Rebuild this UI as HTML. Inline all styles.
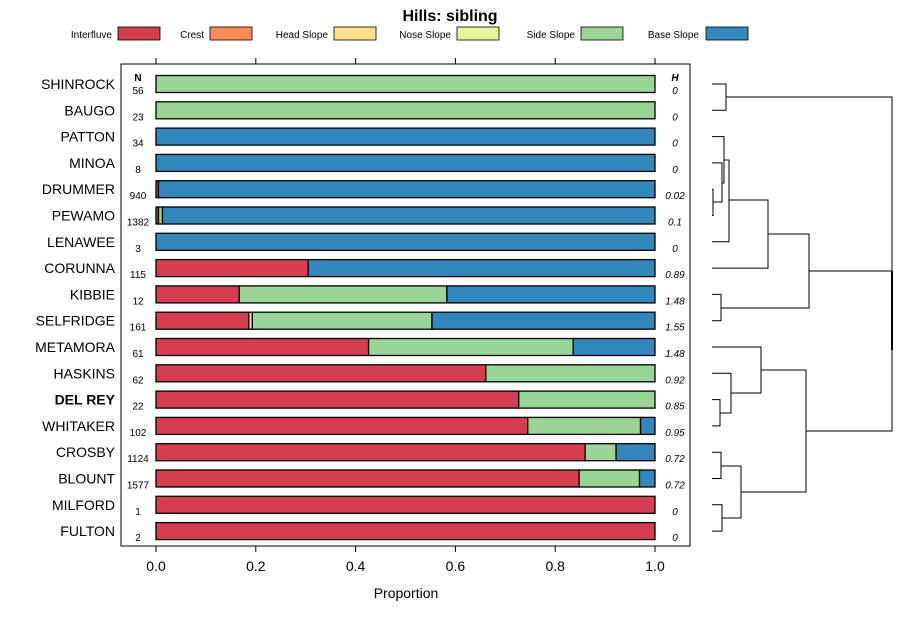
<!DOCTYPE html>
<html><head><meta charset="utf-8"><style>
body{margin:0;background:#fff}
svg{font-family:"Liberation Sans",sans-serif}
</style></head><body>
<svg id="c" width="900" height="620" xmlns="http://www.w3.org/2000/svg">
<text x="450" y="21" text-anchor="middle" font-size="16" font-weight="bold">Hills: sibling</text>
<g id="legend"></g>
<rect x="121" y="64" width="569" height="482" fill="none" stroke="#000" stroke-width="1"/>
<g id="bars"></g>
<g id="axis"></g>
<text x="406" y="598" text-anchor="middle" font-size="14">Proportion</text>
<text x="138" y="81" text-anchor="middle" font-size="10" font-weight="bold">N</text>
<text x="675" y="81" text-anchor="middle" font-size="10" font-weight="bold" font-style="italic">H</text>
<g id="dend" fill="none" stroke="#000" stroke-width="1"></g>
</svg>
<script>
const categories=["SHINROCK","BAUGO","PATTON","MINOA","DRUMMER","PEWAMO","LENAWEE","CORUNNA","KIBBIE","SELFRIDGE","METAMORA","HASKINS","DEL REY","WHITAKER","CROSBY","BLOUNT","MILFORD","FULTON"];
const seriesNames=["Interfluve","Crest","Head Slope","Nose Slope","Side Slope","Base Slope"];
const colors=["#D53E4F","#FC8D59","#FEE08B","#E6F598","#99D594","#3288BD"];
const interfluve=[0,0,0,0,0.005,0.005,0,0.305,0.167,0.186,0.426,0.661,0.727,0.745,0.86,0.848,1,1];
const crest=[0,0,0,0,0,0,0,0,0,0,0,0,0,0,0,0,0,0];
const headSlope=[0,0,0,0,0,0,0,0,0,0.007,0,0,0,0,0,0,0,0];
const noseSlope=[0,0,0,0,0,0,0,0,0,0,0,0,0,0,0,0,0,0];
const sideSlope=[1,1,0,0,0,0.008,0,0,0.416,0.36,0.41,0.339,0.273,0.226,0.062,0.121,0,0];
const baseSlope=[0,0,1,1,0.995,0.987,1,0.695,0.417,0.447,0.164,0,0,0.029,0.078,0.031,0,0];
const nVals=["56","23","34","8","940","1382","3","115","12","161","61","62","22","102","1124","1577","1","2"];
const hVals=["0","0","0","0","0.02","0.1","0","0.89","1.48","1.55","1.48","0.92","0.85","0.95","0.72","0.72","0","0"];
const xTicks=[0,0.2,0.4,0.6,0.8,1.0];
const NS="http://www.w3.org/2000/svg";
const x=v=>156+v*499;
const y=i=>84+i*26.3;
function mk(t,a,p){const e=document.createElementNS(NS,t);for(const k in a)e.setAttribute(k,a[k]);p.appendChild(e);return e;}
const series=[interfluve,crest,headSlope,noseSlope,sideSlope,baseSlope];
const bars=document.getElementById('bars');
categories.forEach((c,i)=>{
  const lab=mk('text',{x:115,y:y(i)+5,'text-anchor':'end','font-size':14,'font-weight':c==="DEL REY"?'bold':'normal'},bars);
  lab.textContent=c;
  
  
  let cum=0;
  series.forEach((s,k)=>{
    const v=s[i]; if(v<=0)return;
    const r=mk('rect',{x:x(cum),y:y(i)-8.5,width:x(cum+v)-x(cum),height:17,fill:colors[k],stroke:'#000','stroke-width':1.3},bars);
    
    
    cum+=v;
  });
  const n=mk('text',{x:138,y:y(i)+10,'text-anchor':'middle','font-size':10},bars);
  n.textContent=nVals[i];
  
  
  const h=mk('text',{x:675,y:y(i)+10,'text-anchor':'middle','font-size':10,'font-style':'italic'},bars);
  h.textContent=hVals[i];
  
  
});
const ax=document.getElementById('axis');
xTicks.forEach(t=>{
  mk('line',{x1:x(t),x2:x(t),y1:546,y2:552,stroke:'#000'},ax);
  mk('line',{x1:x(t),x2:x(t),y1:64,y2:58,stroke:'#000'},ax);
  const tl=mk('text',{x:x(t),y:571,'text-anchor':'middle','font-size':14},ax);
  tl.textContent=t.toFixed(1);
  
  
});
const lg=document.getElementById('legend');
const lx=[[112,118],[204,210],[328,334],[451,457],[575,581],[699,706]];
seriesNames.forEach((s,k)=>{
  const t=mk('text',{x:lx[k][0],y:38,'text-anchor':'end','font-size':10},lg);
  t.textContent=s;
  
  
  const r=mk('rect',{x:lx[k][1],y:27,width:42,height:13,fill:colors[k],stroke:'#000','stroke-width':0.8},lg);
  
  
});
const d=document.getElementById('dend');
function m(x0,ya,yb,ha,hb){mk('path',{d:`M${ha},${ya}H${x0}V${yb}H${hb}`},d);}
const L=712;
m(726,y(0),y(1),L,L);
m(713,y(4),y(5),L,L);
m(722,y(3),202,L,713);
m(724,y(2),183,L,722);
m(729,160,y(6),724,L);
m(768,200,y(7),729,L);
m(721,y(8),y(9),L,L);
m(809,234,308,768,721);
m(720,y(12),y(13),L,L);
m(731,y(11),413,L,720);
m(761,y(10),393,L,731);
m(721,y(14),y(15),L,L);
m(722,y(16),y(17),L,L);
m(741,466,518,721,722);
m(806,370,492,761,741);
m(892,97,431,726,806);
mk('line',{x1:892,x2:892,y1:271,y2:350,'stroke-width':2},d);
m(892,271,271,809,892);
</script>
</body></html>
